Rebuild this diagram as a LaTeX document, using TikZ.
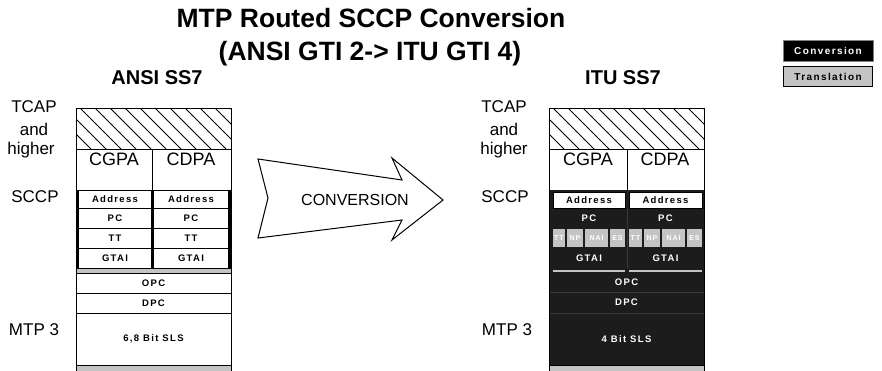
\documentclass[tikz,border=0pt]{standalone}
\usepackage{fontspec}
\setmainfont{Liberation Sans}
\newfontfamily\cellfont[LetterSpace=14]{Liberation Sans}
\definecolor{darkcell}{RGB}{28,28,28}
\definecolor{graycell}{RGB}{196,196,196}
\tikzset{
  lbl/.style={font=\fontsize{17}{17}\selectfont, inner sep=0pt, anchor=center},
  big/.style={font=\fontsize{18}{18}\selectfont, inner sep=0pt},
  ttl/.style={font=\bfseries\fontsize{26.5}{27}\selectfont, inner sep=0pt},
  sub/.style={font=\bfseries\fontsize{20}{20}\selectfont, inner sep=0pt},
  cell/.style={font=\cellfont\bfseries\fontsize{9.5}{10}\selectfont, inner sep=0pt},
  tiny/.style={font=\cellfont\bfseries\fontsize{7}{7}\selectfont, inner sep=0pt, text=white},
  hatchline/.style={line width=0.8pt},
  gcell/.style={fill=graycell, draw=none}
}
\begin{document}
\begin{tikzpicture}[x=1pt,y=-1pt]
\useasboundingbox[fill=white] (0,0) rectangle (882,370);

% titles
\node[ttl] (t1) at (371,18) {MTP Routed SCCP Conversion};
\node[ttl] (t2) at (370,54) {(ANSI GTI 2-> ITU GTI 4)};
\node[sub] (ansi) at (157,78) {ANSI SS7};
\node[sub] (itu) at (623,78) {ITU SS7};

% legend
\node[fill=black, draw=gray, minimum width=90pt, minimum height=21pt, inner sep=0pt,
      text=white, font=\cellfont\bfseries\fontsize{10}{10}\selectfont] (legc) at (828,50.5) {Conversion};
\node[fill=graycell, draw=black, line width=1.5pt, minimum width=89pt, minimum height=20pt, inner sep=0pt,
      font=\cellfont\bfseries\fontsize{10}{10}\selectfont] (legt) at (828,76.5) {Translation};

% left side labels
\node[lbl] (ltcap) at (34,107) {TCAP};
\node[lbl] (land) at (34,129) {and};
\node[lbl] (lhigh) at (31,150) {higher};
\node[lbl] (lsccp) at (35,197) {SCCP};
\node[lbl] (lmtp) at (34,330) {MTP 3};

% ---------- left stack ----------
\begin{scope}
\clip (76,108) rectangle (231,149);
\foreach \x in {20,35,...,245} \draw[hatchline] (\x,108) -- ++(41,41);
\end{scope}
\draw (76,149) -- (231,149);
\draw (152,149) -- (152,190);
\draw (76,190) -- (231,190);
\node[big] (lcg) at (114,159) {CGPA};
\node[big] (lcd) at (191,159) {CDPA};
\foreach \y in {208,228,248} \draw (76,\y) -- (231,\y);
\draw[line width=2.5pt] (77.3,190) -- (77.3,268);
\draw[line width=2.5pt] (152.5,190) -- (152.5,268);
\draw[line width=2.5pt] (229.7,190) -- (229.7,268);
\draw[fill=graycell] (76,268) rectangle (231,273);
\draw (76,293) -- (231,293);
\draw (76,313) -- (231,313);
\draw[fill=graycell] (76,365) rectangle (231,372);
\draw (76,108) rectangle (231,365);
\node[cell] (la1) at (115,199) {Address};
\node[cell] (la2) at (191,199) {Address};
\node[cell] (lp1) at (115,218) {PC};
\node[cell] (lp2) at (191,218) {PC};
\node[cell] (lt1) at (115,238) {TT};
\node[cell] (lt2) at (191,238) {TT};
\node[cell] (lg1) at (115,258) {GTAI};
\node[cell] (lg2) at (191,258) {GTAI};
\node[cell] (lopc) at (153.5,283) {OPC};
\node[cell] (ldpc) at (153.5,303) {DPC};
\node[cell] (lsls) at (153.5,339) {6,8 Bit SLS};

% ---------- arrow ----------
\draw[line width=1pt, line join=miter] (258,159) -- (402,180) -- (392,158) -- (443,200)
  -- (392,240) -- (402,220) -- (258,238) -- (268,198) -- cycle;
\node[font=\fontsize{16}{16}\selectfont, inner sep=0pt] (conv) at (355,200) {CONVERSION};

% right side labels
\node[lbl] (rtcap) at (504,107) {TCAP};
\node[lbl] (rand) at (504,129) {and};
\node[lbl] (rhigh) at (504,150) {higher};
\node[lbl] (rsccp) at (505,197) {SCCP};
\node[lbl] (rmtp) at (507,330) {MTP 3};

% ---------- right stack ----------
\begin{scope}
\clip (549,108) rectangle (704,149);
\foreach \x in {493,508,...,720} \draw[hatchline] (\x,108) -- ++(41,41);
\end{scope}
\draw (549,149) -- (704,149);
\draw (627,149) -- (627,190);
\node[big] (rcg) at (588,159) {CGPA};
\node[big] (rcd) at (665,159) {CDPA};
\fill[darkcell] (549,190) rectangle (704,365);
\draw[fill=white] (553,192) rectangle (625,208);
\draw[fill=white] (629,192) rectangle (702,208);
\draw[gray!45!black, line width=0.6pt] (627,208) -- (627,268);
% gray translation cells
\fill[gcell] (553,229) rectangle (565,247);
\fill[gcell] (567,229) rectangle (583,247);
\fill[gcell] (585,229) rectangle (608,247);
\fill[gcell] (610,229) rectangle (625,247);
\fill[gcell] (629,229) rectangle (642,247);
\fill[gcell] (644,229) rectangle (660,247);
\fill[gcell] (662,229) rectangle (685,247);
\fill[gcell] (687,229) rectangle (702,247);
\draw[graycell, line width=2pt] (553,271) -- (625,271);
\draw[graycell, line width=2pt] (629,271) -- (702,271);
\draw[gray!45!black, line width=0.6pt] (549,292) -- (704,292);
\draw[gray!45!black, line width=0.6pt] (549,313) -- (704,313);
\draw[fill=graycell] (549,365) rectangle (704,372);
\draw (549,108) rectangle (704,365);
\node[cell] (ra1) at (589,200) {Address};
\node[cell] (ra2) at (665.5,200) {Address};
\node[cell, text=white] (rp1) at (589,218) {PC};
\node[cell, text=white] (rp2) at (665.5,218) {PC};
\node[tiny] (rtt1) at (559,238) {TT};
\node[tiny] (rnp1) at (575,238) {NP};
\node[tiny] (rnai1) at (596.5,238) {NAI};
\node[tiny] (res1) at (617.5,238) {ES};
\node[tiny] (rtt2) at (635.5,238) {TT};
\node[tiny] (rnp2) at (652,238) {NP};
\node[tiny] (rnai2) at (673.5,238) {NAI};
\node[tiny] (res2) at (694.5,238) {ES};
\node[cell, text=white] (rg1) at (589,258) {GTAI};
\node[cell, text=white] (rg2) at (665.5,258) {GTAI};
\node[cell, text=white] (ropc) at (626.5,282) {OPC};
\node[cell, text=white] (rdpc) at (626.5,302) {DPC};
\node[cell, text=white] (rsls) at (626.5,339) {4 Bit SLS};
\end{tikzpicture}
\end{document}
